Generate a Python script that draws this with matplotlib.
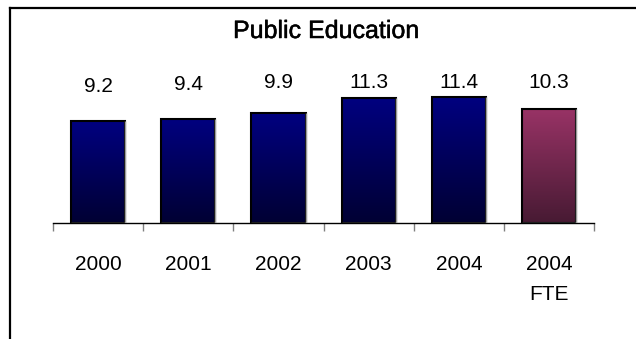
import numpy as np
import matplotlib
matplotlib.use("Agg")
import matplotlib.pyplot as plt
import matplotlib.patheffects as pe
from matplotlib.colors import LinearSegmentedColormap
from matplotlib.lines import Line2D

plt.rcParams['font.family'] = ['Liberation Sans', 'DejaVu Sans']

# data
years = ['2000', '2001', '2002', '2003', '2004', '2004\nFTE']
values = [9.2, 9.4, 9.9, 11.3, 11.4, 10.3]
highlight = [False, False, False, False, False, True]

navy = LinearSegmentedColormap.from_list('navy', ['#000033', '#000080'])
maroon = LinearSegmentedColormap.from_list('maroon', ['#471a33', '#993366'])

fig = plt.figure(figsize=(6.36, 3.39), dpi=100)
ax = fig.add_axes([0.0833, 0.342, 0.851, 0.451])

x = np.arange(len(values))
bars = ax.bar(x, values, width=0.6, color='none', edgecolor='black', linewidth=1.5, zorder=3)

# vertical gradient fill inside each bar, plus the light bevel on right/bottom
grad = np.linspace(0, 1, 256).reshape(-1, 1)
for b, hl in zip(bars, highlight):
    x0, y0 = b.get_x(), b.get_y()
    w, h = b.get_width(), b.get_height()
    im = ax.imshow(grad, cmap=maroon if hl else navy, origin='lower', aspect='auto',
                   extent=[x0, x0 + w, y0, y0 + h], zorder=2)
    im.set_clip_path(b)
    ax.plot([x0 + w, x0 + w, x0], [y0 + h, y0, y0], color='#9a9a9a', lw=1, zorder=4,
            solid_capstyle='butt')

ax.set_xlim(-0.5, len(values) - 0.5)
ax.set_ylim(0, 13.8)

# value labels (Excel pushes the tall ones down to the plot top)
for xi, v in zip(x, values):
    ax.text(xi, min(v + 2.6, 12.2), f'{v:.1f}', ha='center', va='baseline', fontsize=15)

ax.set_xticks(x)
ax.set_xticklabels(years, fontsize=15, linespacing=1.75)
ax.set_xticks(np.arange(-0.5, len(values)), minor=True)
ax.tick_params(axis='x', which='major', length=0, pad=23)
ax.tick_params(axis='x', which='minor', length=5.8, width=1, color='#808080')
ax.set_yticks([])
for s in ['left', 'right', 'top']:
    ax.spines[s].set_visible(False)
ax.spines['bottom'].set_color('black')
ax.spines['bottom'].set_linewidth(1)

fig.text(326 / 636, 1 - 31 / 339, 'Public Education', ha='center', va='center', fontsize=18,
         path_effects=[pe.withStroke(linewidth=0.35, foreground='black')])

# chart frame (only left and top edges fall inside the image)
fig.add_artist(Line2D([10 / 636, 10 / 636], [0, 1 - 8 / 339], color='black', lw=1.6, transform=fig.transFigure))
fig.add_artist(Line2D([10 / 636, 1], [1 - 8 / 339, 1 - 8 / 339], color='black', lw=1.6, transform=fig.transFigure))

fig.savefig('out.png', dpi=100)
